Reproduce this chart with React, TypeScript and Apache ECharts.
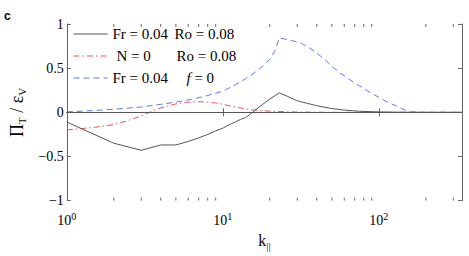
import React, { useEffect, useRef } from "react";
import * as echarts from "echarts";

// k_parallel values and Pi_T / eps_V for each run
const kSolid = [1, 2, 3, 4, 5, 6, 7, 8, 9, 10, 11, 12, 13, 14, 15, 16, 18, 20, 23, 26, 30, 35, 40, 50, 60, 75, 100, 130, 170, 250, 341];
const vSolid = [-0.11, -0.35, -0.43, -0.37, -0.37, -0.33, -0.29, -0.25, -0.21, -0.18, -0.14, -0.11, -0.08, -0.06, -0.02, 0.02, 0.09, 0.15, 0.22, 0.18, 0.13, 0.1, 0.075, 0.042, 0.025, 0.012, 0.004, 0.001, 0, 0, 0];

const kRed = [1, 1.5, 2, 2.5, 3, 3.5, 4, 5, 6, 7, 8, 9, 10, 12, 15, 20, 30, 50, 100, 341];
const vRed = [-0.2, -0.17, -0.14, -0.09, -0.04, 0.01, 0.05, 0.095, 0.115, 0.12, 0.115, 0.105, 0.09, 0.06, 0.03, 0.012, 0.003, 0, 0, 0];

const kBlue = [1, 1.5, 2, 3, 4, 5, 6, 7, 8, 10, 12, 14, 16, 18, 20, 21.5, 23, 25, 28, 32, 36, 40, 45, 50, 56, 65, 75, 85, 100, 115, 130, 145, 160, 200, 341];
const vBlue = [0.005, 0.02, 0.035, 0.06, 0.09, 0.115, 0.14, 0.165, 0.19, 0.24, 0.31, 0.38, 0.45, 0.52, 0.6, 0.69, 0.84, 0.83, 0.81, 0.78, 0.73, 0.67, 0.6, 0.52, 0.45, 0.37, 0.3, 0.24, 0.17, 0.11, 0.07, 0.03, 0.005, 0, 0];

const minorTicks = [2, 3, 4, 5, 6, 7, 8, 9, 20, 30, 40, 50, 60, 70, 80, 90, 200, 300];
const yTicks = [-1, -0.5, 0, 0.5, 1];

const seriesNames = ["solid", "red", "blue"];

const AXIS = "#666";
const SERIF = "Liberation Serif";

export default function App() {
  const ref = useRef<HTMLDivElement>(null);
  useEffect(() => {
    if (!ref.current) return;
    const chart = echarts.init(ref.current, null, { renderer: "svg" });
    const toPairs = (k: number[], v: number[]) => k.map((x, i) => [x, v[i]]);
    const supFmt = (v: number) => {
      const e = Math.round(Math.log10(v));
      if (Math.abs(Math.pow(10, e) - v) > 1e-6) return "";
      return `{b|10}{s|${e}}`;
    };
    const legendFmt = (name: string) => {
      if (name === "solid") return "{a|Fr = 0.04}{r|Ro = 0.08}";
      if (name === "red") return "{n|N = 0}{r|Ro = 0.08}";
      return "{c|Fr = 0.04}{i|f}{r| = 0}";
    };
    const lt = { fontFamily: SERIF, fontSize: 15, color: "#000", lineHeight: 18 };
    const xBase = {
      type: "log" as const,
      logBase: 10,
      min: 1,
      max: 341,
      axisLine: { show: true, lineStyle: { color: AXIS, width: 1 } },
      axisTick: { show: true, inside: true, length: 4, lineStyle: { color: AXIS } },
      splitLine: { show: false },
      minorTick: { show: false },
    };
    const yBase = {
      type: "value" as const,
      min: -1,
      max: 1,
      interval: 0.5,
      axisLine: { show: true, lineStyle: { color: AXIS, width: 1 } },
      axisTick: { show: true, inside: true, length: 4, lineStyle: { color: AXIS } },
      splitLine: { show: false },
    };
    chart.setOption({
      animation: false,
      grid: { left: 62, right: 7, top: 24, bottom: 44 },
      graphic: [
        {
          type: "text",
          x: 4,
          y: 16,
          style: { text: "c", font: "bold 12px Liberation Sans", fill: "#000", verticalAlign: "middle" },
        },
      ],
      legend: {
        data: seriesNames,
        orient: "vertical",
        left: 73,
        top: 25,
        padding: 0,
        itemGap: 4,
        itemWidth: 34,
        itemHeight: 14,
        selectedMode: false,
        itemStyle: { opacity: 0, borderWidth: 0 },
        lineStyle: { width: 1 },
        formatter: legendFmt,
        textStyle: {
          ...lt,
          rich: {
            a: { ...lt, width: 62 },
            n: { ...lt, width: 60, padding: [0, 0, 0, 4] },
            c: { ...lt, width: 74 },
            i: { ...lt, fontStyle: "italic" },
            r: { ...lt },
          },
        },
      },
      xAxis: [
        {
          ...xBase,
          position: "bottom",
          name: "{m|k}{s|||}",
          nameLocation: "middle",
          nameGap: 28,
          nameTextStyle: {
            rich: {
              m: { fontFamily: SERIF, fontSize: 16, color: "#000" },
              s: { fontFamily: SERIF, fontSize: 11, color: "#000", padding: [10, 0, 0, 0] },
            },
          },
          axisLabel: {
            margin: 11,
            showMaxLabel: false,
            formatter: supFmt,
            rich: {
              b: { fontFamily: SERIF, fontSize: 14, color: "#000" },
              s: { fontFamily: SERIF, fontSize: 10, color: "#000", padding: [0, 0, 8, 0] },
            },
          },
        },
        { ...xBase, position: "top", axisLabel: { show: false } },
      ],
      yAxis: [
        {
          ...yBase,
          position: "left",
          name: "{m|Π}{s|T}{m| / ε}{s|V}",
          nameLocation: "middle",
          nameGap: 31,
          nameTextStyle: {
            rich: {
              m: { fontFamily: SERIF, fontSize: 18, color: "#000" },
              s: { fontFamily: SERIF, fontSize: 11, color: "#000", padding: [10, 0, 0, 0] },
            },
          },
          axisLabel: {
            margin: 3,
            fontFamily: SERIF,
            fontSize: 14,
            color: "#000",
            formatter: (v: number) => (yTicks.includes(v) ? (v < 0 ? "\u2212" + Math.abs(v) : String(v)) : ""),
          },
        },
        { ...yBase, position: "right", axisLabel: { show: false } },
      ],
      series: [
        {
          name: "solid",
          type: "line",
          data: toPairs(kSolid, vSolid),
          showSymbol: false,
          symbol: "none",
          lineStyle: { color: "#555", width: 1, type: "solid" },
          itemStyle: { color: "#555" },
          z: 3,
          markLine: {
            silent: true,
            symbol: "none",
            label: { show: false },
            lineStyle: { color: "#555", width: 1, type: "solid" },
            data: [{ yAxis: 0 }],
          },
        },
        {
          name: "red",
          type: "line",
          data: toPairs(kRed, vRed),
          showSymbol: false,
          symbol: "none",
          lineStyle: { color: "#ff4d4d", width: 1, type: [6, 3, 1.5, 3] },
          itemStyle: { color: "#ff4d4d" },
          z: 2,
        },
        {
          name: "blue",
          type: "line",
          data: toPairs(kBlue, vBlue),
          showSymbol: false,
          symbol: "none",
          lineStyle: { color: "#5a78f0", width: 1, type: [6, 4] },
          itemStyle: { color: "#5a78f0" },
          z: 2,
        },
        {
          name: "minorTicks",
          type: "custom",
          silent: true,
          clip: false,
          data: minorTicks.map((t) => [t, 0]),
          encode: { x: 0, y: 1 },
          renderItem: (_p: any, api: any) => {
            const b = api.coord([api.value(0), -1]);
            const t = api.coord([api.value(0), 1]);
            const st = { stroke: AXIS, lineWidth: 1 };
            return {
              type: "group",
              children: [
                { type: "line", shape: { x1: b[0], y1: b[1], x2: b[0], y2: b[1] - 3 }, style: st },
                { type: "line", shape: { x1: t[0], y1: t[1], x2: t[0], y2: t[1] + 3 }, style: st },
              ],
            };
          },
        },
      ],
    });
    return () => chart.dispose();
  }, []);
  return <div ref={ref} style={{ width: 469, height: 256, position: "absolute", left: 0, top: 0 }} />;
}
